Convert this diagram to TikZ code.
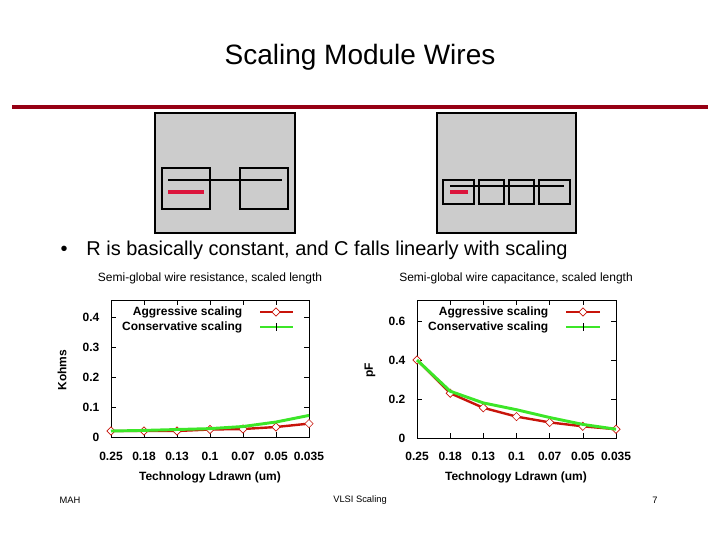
\documentclass[tikz,border=0pt]{standalone}
\usepackage{fontspec}
\setmainfont{Liberation Sans}
\usetikzlibrary{shapes.geometric}
\begin{document}
\begin{tikzpicture}[x=0.75pt,y=-0.75pt,
  gbox/.style={fill=black!20,draw=black,line width=1.3pt},
  ibox/.style={draw=black,line width=1.3pt},
  wire/.style={line width=1pt},
  rwire/.style={line width=3pt,draw={rgb,255:red,220;green,20;blue,60}},
  tick/.style={font=\fontsize{9}{10}\selectfont\bfseries},
  lab/.style={font=\fontsize{9}{11}\selectfont},
  blab/.style={font=\fontsize{9}{11}\selectfont\bfseries},
  agg/.style={draw={rgb,255:red,200;green,20;blue,10},line width=1.8pt},
  con/.style={draw={rgb,255:red,60;green,230;blue,40},line width=2.2pt},
  dmark/.style={draw={rgb,255:red,200;green,20;blue,10},fill=white,line width=0.5pt,shape=diamond,inner sep=1.6pt}]
\useasboundingbox (0,0) rectangle (720,540);
\node (title) at (360,57) {\fontsize{21}{24}\selectfont Scaling Module Wires};
\fill[fill={rgb,255:red,150;green,0;blue,20}] (12,105) rectangle (708,109);
% boxes
\draw[gbox] (155,113) rectangle (295,233);
\draw[ibox] (162,168) rectangle (210,209);
\draw[ibox] (240,168) rectangle (288,209);
\draw[wire] (168,180) -- (282,180);
\draw[rwire] (168,192) -- (204,192);
\draw[gbox] (437,113) rectangle (576,233);
\foreach \a/\b in {443/474,479/504,509/534,539/570}{\draw[ibox] (\a,180) rectangle (\b,204);}
\draw[wire] (450,186) -- (564,186);
\draw[rwire] (450,192) -- (468,192);
\node[anchor=west] (bullet) at (56,250) {\fontsize{15}{18}\selectfont •\hspace{14pt}R is basically constant, and C falls linearly with scaling};
% chart 1
\node[lab] (t1) at (210,278) {Semi-global wire resistance, scaled length};
\draw[line width=0.6pt] (111,300) rectangle (309,437);
\foreach \v/\l in {0/0,1/0.1,2/0.2,3/0.3,4/0.4}{
  \draw (111,437-30*\v) -- ++(5,0); \draw (309,437-30*\v) -- ++(-5,0);
  \node[tick,anchor=east] at (104,437-30*\v) {\l};}
\foreach \i/\l in {0/0.25,1/0.18,2/0.13,3/0.1,4/0.07,5/0.05,6/0.035}{
  \draw (111+33*\i,437) -- ++(0,-5); \draw (111+33*\i,300) -- ++(0,5);
  \node[tick] at (111+33*\i,456) {\l};}
\draw[agg] plot coordinates {(111,431) (144,431) (177,431) (210,429.5) (243,429) (276,427) (309,423.6)};
\foreach \x/\y in {111/431,144/431,177/431,210/429.5,243/429,276/427,309/423.6}{\node[dmark] at (\x,\y) {};}
\draw[con] plot coordinates {(111,431) (144,430.4) (177,429.5) (210,428.6) (243,426.5) (276,422) (309,415.4)};
\node[blab,anchor=east] (l1) at (247,312) {Aggressive scaling};
\node[blab,anchor=east] (l2) at (247,327) {Conservative scaling};
\draw[agg,line width=1pt] (260,312) -- (293,312); \node[dmark] at (276,312) {};
\draw[con,line width=1.5pt] (260,327) -- (293,327); \draw (276,323) -- (276,331);
\node[blab,rotate=90] (yl1) at (62,370) {Kohms};
\node[blab] (xl1) at (210,477) {Technology Ldrawn (um)};
% chart 2
\node[lab] (t2) at (516,278) {Semi-global wire capacitance, scaled length};
\draw[line width=0.6pt] (417,300) rectangle (616,438);
\foreach \v/\l in {0/0,2/0.2,4/0.4,6/0.6}{
  \draw (417,438-19.5*\v) -- ++(5,0); \draw (616,438-19.5*\v) -- ++(-5,0);
  \node[tick,anchor=east] at (410,438-19.5*\v) {\l};}
\foreach \i/\l in {0/0.25,1/0.18,2/0.13,3/0.1,4/0.07,5/0.05,6/0.035}{
  \draw (417+33.17*\i,438) -- ++(0,-5); \draw (417+33.17*\i,300) -- ++(0,5);
  \node[tick] at (417+33.17*\i,456) {\l};}
\draw[agg] plot coordinates {(417,360) (450.2,393.2) (483.3,407.8) (516.5,416.6) (549.7,422.4) (582.8,426.3) (616,429.2)};
\foreach \x/\y in {417/360,450.2/393.2,483.3/407.8,516.5/416.6,549.7/422.4,582.8/426.3,616/429.2}{\node[dmark] at (\x,\y) {};}
\draw[con] plot coordinates {(417,360) (450.2,391.2) (483.3,402.9) (516.5,409.7) (549.7,417.5) (582.8,424.4) (616,429.2)};
\node[blab,anchor=east] (l3) at (553,312) {Aggressive scaling};
\node[blab,anchor=east] (l4) at (553,327) {Conservative scaling};
\draw[agg,line width=1pt] (566,312) -- (600,312); \node[dmark] at (583,312) {};
\draw[con,line width=1.5pt] (566,327) -- (600,327); \draw (583,323) -- (583,331);
\node[blab,rotate=90] (yl2) at (370,370) {pF};
\node[blab] (xl2) at (516,477) {Technology Ldrawn (um)};
% footer
\node[font=\fontsize{7}{8}\selectfont,anchor=west] (f1) at (55,500) {MAH};
\node[font=\fontsize{7}{8}\selectfont] (f2) at (360,500) {VLSI Scaling};
\node[font=\fontsize{7}{8}\selectfont] (f3) at (655,500) {7};
\end{tikzpicture}
\end{document}
